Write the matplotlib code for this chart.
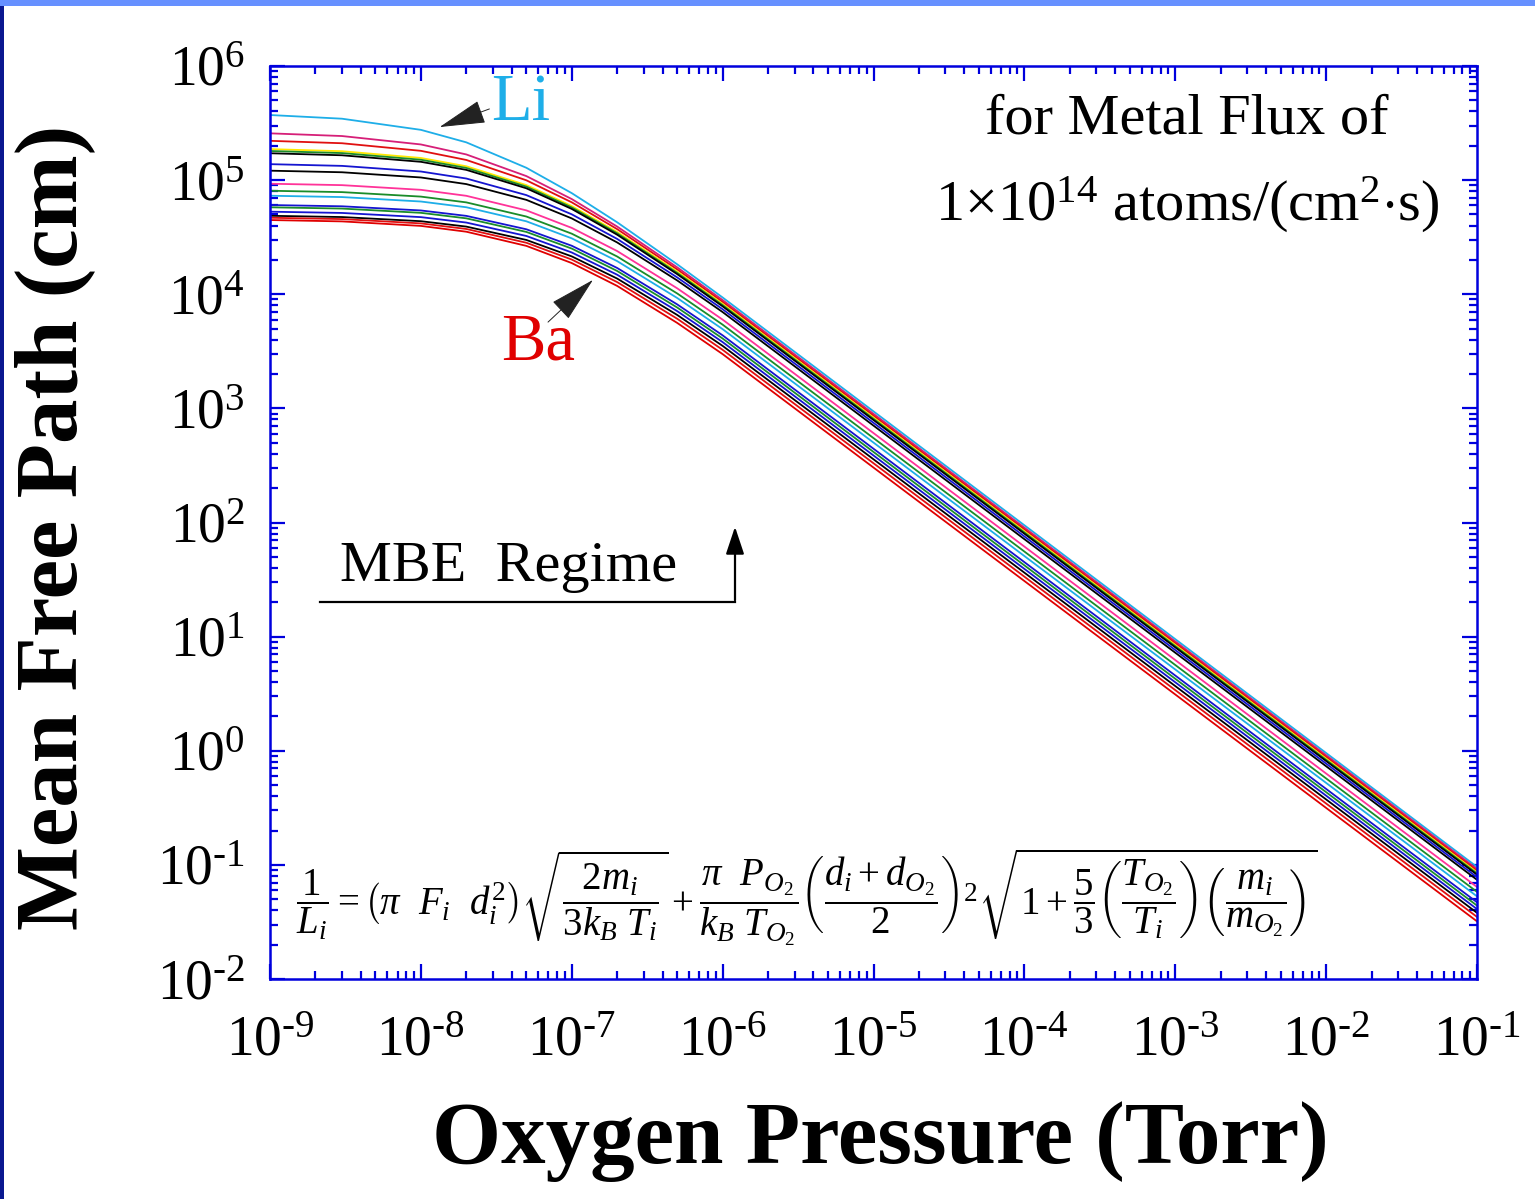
import numpy as np
import matplotlib
matplotlib.use("Agg")
import matplotlib.pyplot as plt
from matplotlib.patches import Rectangle
from matplotlib.ticker import LogLocator, FuncFormatter, NullFormatter

plt.rcParams['font.family'] = ['Liberation Serif', 'DejaVu Serif']
plt.rcParams['mathtext.fontset'] = 'custom'
plt.rcParams['mathtext.rm'] = 'Liberation Serif'
plt.rcParams['mathtext.it'] = 'Liberation Serif:italic'
plt.rcParams['mathtext.bf'] = 'Liberation Serif:bold'

# oxygen pressure (Torr) where each curve was read
pressure = [1e-9, 3e-9, 1e-8, 2e-8, 5e-8, 1e-7, 2e-7, 5e-7, 1e-6, 1e-1]

# mean free path (cm) of each metal, top (Li) to bottom (Ba) at low pressure
colors = ['#1EAEE8', '#D61F78', '#E01010', '#FFE800', '#1A8C2A', '#000000',
          '#1515D0', '#000000', '#FF3399', '#1A8C2A', '#1EAEE8', '#1515D0',
          '#1A8C2A', '#1515D0', '#000000', '#E01010', '#E00000']
mfp = [
    [3.72e5, 3.453e5, 2.758e5, 2.143e5, 1.283e5, 7.692e4, 4.270e4, 1.829e4, 9368, 0.096],
    [2.57e5, 2.434e5, 2.054e5, 1.679e5, 1.085e5, 6.825e4, 3.918e4, 1.720e4, 8890, 0.092],
    [2.21e5, 2.105e5, 1.806e5, 1.502e5, 9.969e4, 6.390e4, 3.720e4, 1.650e4, 8563, 0.089],
    [1.87e5, 1.792e5, 1.564e5, 1.323e5, 9.053e4, 5.931e4, 3.510e4, 1.578e4, 8230, 0.086],
    [1.80e5, 1.726e5, 1.509e5, 1.279e5, 8.780e4, 5.766e4, 3.419e4, 1.539e4, 8033, 0.084],
    [1.72e5, 1.651e5, 1.447e5, 1.230e5, 8.482e4, 5.591e4, 3.324e4, 1.500e4, 7834, 0.082],
    [1.38e5, 1.333e5, 1.190e5, 1.033e5, 7.392e4, 5.015e4, 3.053e4, 1.404e4, 7389, 0.078],
    [1.21e5, 1.172e5, 1.055e5, 9.232e4, 6.718e4, 4.620e4, 2.844e4, 1.321e4, 6980, 0.074],
    [9.3e4, 9.037e4, 8.224e4, 7.288e4, 5.432e4, 3.814e4, 2.390e4, 1.127e4, 5994, 0.064],
    [8.07e4, 7.851e4, 7.172e4, 6.382e4, 4.798e4, 3.394e4, 2.141e4, 1.016e4, 5416, 0.058],
    [7.3e4, 7.104e4, 6.495e4, 5.786e4, 4.358e4, 3.089e4, 1.951e4, 9272, 4946, 0.053],
    [6.05e4, 5.898e4, 5.422e4, 4.861e4, 3.710e4, 2.660e4, 1.699e4, 8150, 4365, 0.047],
    [5.78e4, 5.632e4, 5.169e4, 4.626e4, 3.517e4, 2.513e4, 1.599e4, 7651, 4093, 0.044],
    [5.29e4, 5.157e4, 4.740e4, 4.248e4, 3.241e4, 2.323e4, 1.483e4, 7112, 3809, 0.041],
    [4.87e4, 4.748e4, 4.366e4, 3.916e4, 2.991e4, 2.147e4, 1.372e4, 6585, 3528, 0.038],
    [4.68e4, 4.558e4, 4.177e4, 3.732e4, 2.827e4, 2.014e4, 1.278e4, 6100, 3259, 0.035],
    [4.47e4, 4.349e4, 3.971e4, 3.532e4, 2.654e4, 1.876e4, 1.183e4, 5608, 2989, 0.032],
]

axis_blue = '#0000DD'

fig = plt.figure(figsize=(15.35, 11.99), dpi=100)
ax = fig.add_axes([270/1535, 1 - 979/1199, 1207/1535, 913/1199])

for c, vals in zip(colors, mfp):
    ax.plot(pressure, vals, color=c, lw=1.3)

ax.set_xscale('log')
ax.set_yscale('log')
ax.set_xlim(1e-9, 1e-1)
ax.set_ylim(1e-2, 1e6)


def decade(v, _):
    e = int(round(np.log10(v)))
    if e < 0:
        return r'$\mathregular{10^{\text{-}%d}}$' % (-e)
    return r'$\mathregular{10^{%d}}$' % e


for a in (ax.xaxis, ax.yaxis):
    a.set_major_locator(LogLocator(base=10, numticks=20))
    a.set_minor_locator(LogLocator(base=10, subs=np.arange(2, 10), numticks=20))
    a.set_major_formatter(FuncFormatter(decade))
    a.set_minor_formatter(NullFormatter())

ax.tick_params(which='both', direction='in', top=True, right=True,
               color=axis_blue, width=1.6)
ax.tick_params(which='major', length=11, labelsize=40)
ax.tick_params(which='minor', length=6)
ax.tick_params(axis='x', which='major', pad=26)
ax.tick_params(axis='y', which='major', pad=18)
for s in ax.spines.values():
    s.set_color(axis_blue)
    s.set_linewidth(1.8)

fig.text(880/1535, 1 - 1142/1199, 'Oxygen Pressure (Torr)', fontsize=64,
         fontweight='bold', ha='center', va='center')
fig.text(55/1535, 1 - 527/1199, 'Mean Free Path (cm)', fontsize=64,
         fontweight='bold', ha='center', va='center', rotation=90)


def afrac(px, py):
    return ((px - 270) / 1207, (979 - py) / 913)


ax.text(*afrac(1187, 120), 'for Metal Flux of', fontsize=42,
        ha='center', va='center', transform=ax.transAxes)
ax.text(*afrac(1187, 205), r'1$\times$10$^{14}$ atoms/(cm$^{2}$$\cdot$s)',
        fontsize=42, ha='center', va='center', transform=ax.transAxes)

head = '-|>,head_length=1.5,head_width=0.38'
ax.text(*afrac(521, 103), 'Li', fontsize=48, color='#1EAEE8',
        ha='center', va='center', transform=ax.transAxes)
ax.annotate('', xy=afrac(437, 128), xytext=afrac(492, 108),
            xycoords='axes fraction', textcoords='axes fraction',
            arrowprops=dict(arrowstyle=head, color='#222222', lw=0.7,
                            mutation_scale=20))
ax.text(*afrac(538, 343), 'Ba', fontsize=48, color='#E00000',
        ha='center', va='center', transform=ax.transAxes)
ax.annotate('', xy=afrac(595, 278), xytext=afrac(546, 324),
            xycoords='axes fraction', textcoords='axes fraction',
            arrowprops=dict(arrowstyle=head, color='#222222', lw=0.7,
                            mutation_scale=20))

ax.text(*afrac(340, 567), 'MBE  Regime', fontsize=42,
        ha='left', va='center', transform=ax.transAxes)
p0, p1 = afrac(320, 602), afrac(735, 602)
ax.plot([p0[0], p1[0]], [p0[1], p1[1]], color='black', lw=1.6,
        transform=ax.transAxes)
ax.annotate('', xy=afrac(735, 524), xytext=afrac(735, 603),
            xycoords='axes fraction', textcoords='axes fraction',
            arrowprops=dict(arrowstyle='-|>,head_length=1.2,head_width=0.4',
                            color='black', lw=1.6, mutation_scale=14))

eq = (r'$\dfrac{1}{L_i} = \left(\pi\ \ F_i\ \ d_i^2\right)\sqrt{\dfrac{2m_i}{3k_B\ T_i}}'
      r' + \dfrac{\pi\ \ P_{O_2}}{k_B\ T_{O_2}}\left(\dfrac{d_i + d_{O_2}}{2}\right)^2'
      r'\sqrt{1 + \dfrac{5}{3}\left(\dfrac{T_{O_2}}{T_i}\right)\left(\dfrac{m_i}{m_{O_2}}\right)}$')
ax.text(*afrac(296, 897), eq, fontsize=28, ha='left', va='center',
        transform=ax.transAxes)

fig.add_artist(Rectangle((0, 1 - 6/1199), 1, 6/1199, transform=fig.transFigure,
                         color='#6690FF', lw=0))
fig.add_artist(Rectangle((0, 0), 4/1535, 1 - 6/1199, transform=fig.transFigure,
                         color='#0A1890', lw=0))

fig.savefig('out.png', dpi=100)
